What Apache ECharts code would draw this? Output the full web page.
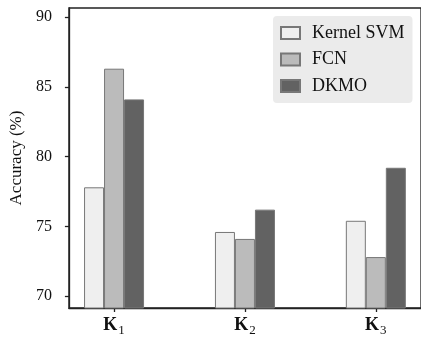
<!DOCTYPE html>
<html><head><meta charset="utf-8">
<script src="https://cdn.jsdelivr.net/npm/echarts@6/dist/echarts.min.js"></script>
<style>html,body{margin:0;padding:0;background:#fff}#c{width:421px;height:337px}</style>
</head><body><div id="c"></div>
<script>
var categories = ['1', '2', '3'];
var seriesNames = ['Kernel SVM', 'FCN', 'DKMO'];
var kernelSVM = [77.8, 74.6, 75.4];
var fcn = [86.3, 74.1, 72.8];
var dkmo = [84.1, 76.2, 79.2];
var yTicks = [70, 75, 80, 85, 90];
var colors = ['#efefef', '#bbbbbb', '#626262'];

var values = [kernelSVM, fcn, dkmo];
var font = 'Liberation Serif';
var chart = echarts.init(document.getElementById('c'), null, {renderer: 'canvas'});
chart.setOption({
  animation: false,
  grid: {left: 67, right: -2, top: 8, bottom: 25, show: true, borderColor: '#222', borderWidth: 1.3, backgroundColor: 'transparent'},
  legend: {
    data: seriesNames, orient: 'vertical', left: 273, top: 16, icon: 'rect',
    padding: [8, 8, 8, 7], itemWidth: 19, itemHeight: 12, itemGap: 8.5,
    backgroundColor: '#ebebeb', borderRadius: 4,
    textStyle: {fontFamily: font, fontSize: 18, color: '#111', lineHeight: 16, padding: [0, 0, 0, 7]}
  },
  xAxis: {
    type: 'value', min: -0.345, max: 2.345,
    splitLine: {show: false},
    axisLine: {show: true, onZero: false, lineStyle: {color: '#222', width: 1.3}},
    axisTick: {show: true, customValues: [0, 1, 2], length: 4, lineStyle: {color: '#222', width: 1.3}},
    axisLabel: {
      customValues: [0, 1, 2], margin: 6,
      formatter: function (v) { return '{b|K}{s|' + categories[Math.round(v)] + '}'; },
      rich: {
        b: {fontFamily: font, fontWeight: 'bold', fontSize: 18, color: '#111', verticalAlign: 'bottom', lineHeight: 20},
        s: {fontFamily: font, fontSize: 13, color: '#111', verticalAlign: 'bottom', lineHeight: 15, padding: [0, 0, -3, 1]}
      }
    }
  },
  yAxis: {
    type: 'value', min: 69.15, max: 90.65,
    name: 'Accuracy (%)', nameLocation: 'middle', nameGap: 38,
    nameTextStyle: {fontFamily: font, fontSize: 17, color: '#111'},
    splitLine: {show: false},
    axisLine: {show: true, onZero: false, lineStyle: {color: '#222', width: 1.3}},
    axisTick: {show: true, customValues: yTicks, length: 4, lineStyle: {color: '#222', width: 1.3}},
    axisLabel: {customValues: yTicks, margin: 17, fontFamily: font, fontSize: 16, color: '#111'}
  },
  series: seriesNames.map(function (name, i) {
    return {
      name: name, type: 'bar', barWidth: 20, barGap: '0%',
      itemStyle: {color: colors[i], borderColor: '#777', borderWidth: 1},
      data: values[i].map(function (v, j) { return [j, v]; })
    };
  })
});
</script></body></html>
